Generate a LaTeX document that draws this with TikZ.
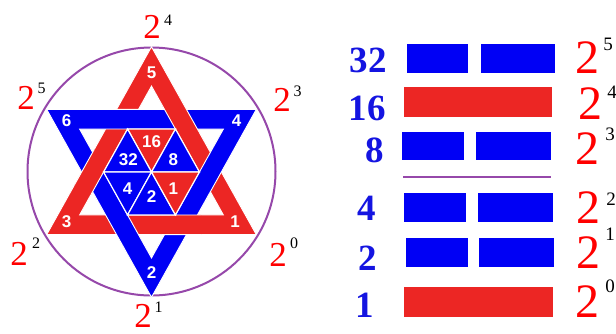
\documentclass[tikz,border=0pt]{standalone}
\usepackage{fontspec}
\setmainfont{Liberation Serif}
\newfontfamily\labfont{Liberation Sans}
\definecolor{sred}{RGB}{236,38,36}
\definecolor{sblue}{RGB}{0,0,245}
\definecolor{circ}{RGB}{150,72,170}
\definecolor{numblue}{RGB}{20,20,225}
\begin{document}
\begin{tikzpicture}[x=1pt,y=-1pt,
  wlab/.style={font=\labfont\bfseries\fontsize{17}{17}\selectfont, text=white, inner sep=0pt},
  big2/.style={font=\fontsize{35}{35}\selectfont, text=red, anchor=base, inner sep=0pt},
  sup/.style={font=\fontsize{16}{16}\selectfont, text=black, anchor=base, inner sep=0pt},
  rbig/.style={font=\fontsize{48}{48}\selectfont, text=red, anchor=base, inner sep=0pt},
  rsup/.style={font=\fontsize{19}{19}\selectfont, text=black, anchor=base, inner sep=0pt},
  num/.style={font=\bfseries\fontsize{37}{37}\selectfont, text=numblue, anchor=base, inner sep=0pt},
  bandred/.style={fill=sred, draw=white, line width=0.9pt, even odd rule, line join=miter},
  bandblue/.style={fill=sblue, draw=white, line width=0.9pt, even odd rule, line join=miter},
  tri/.style={draw=white, line width=1.2pt, line join=miter},
  barb/.style={fill=sblue},
  barr/.style={fill=sred}]
\useasboundingbox (0,0) rectangle (616,333);
\fill[white] (0,0) rectangle (616,333);

% circle
\draw[circ, line width=2pt] (151.5,171.5) circle [radius=124];

% star
\begin{scope}[shift={(151.5,172)}, yscale=-1.035]
  \coordinate (RO1) at (0,121);
  \coordinate (RO2) at (-104.79,-60.5);
  \coordinate (RO3) at (104.79,-60.5);
  \coordinate (RI1) at (0,83);
  \coordinate (RI2) at (-71.88,-41.5);
  \coordinate (RI3) at (71.88,-41.5);
  \coordinate (BO1) at (0,-121);
  \coordinate (BO2) at (-104.79,60.5);
  \coordinate (BO3) at (104.79,60.5);
  \coordinate (BI1) at (0,-83);
  \coordinate (BI2) at (-71.88,41.5);
  \coordinate (BI3) at (71.88,41.5);
  \coordinate (O) at (0,0);
  \coordinate (H0) at (47.92,0);
  \coordinate (H1) at (23.96,41.5);
  \coordinate (H2) at (-23.96,41.5);
  \coordinate (H3) at (-47.92,0);
  \coordinate (H4) at (-23.96,-41.5);
  \coordinate (H5) at (23.96,-41.5);

  \path[bandred] (RO1)--(RO2)--(RO3)--cycle (RI1)--(RI2)--(RI3)--cycle;
  \path[bandblue] (BO1)--(BO2)--(BO3)--cycle (BI1)--(BI2)--(BI3)--cycle;
  \foreach \a in {60,180,300}{
    \begin{scope}
      \clip (\a:59) circle [radius=22];
      \path[bandred] (RO1)--(RO2)--(RO3)--cycle (RI1)--(RI2)--(RI3)--cycle;
    \end{scope}
  }
  \path[tri, fill=sred]  (O)--(H1)--(H2)--cycle;
  \path[tri, fill=sblue] (O)--(H2)--(H3)--cycle;
  \path[tri, fill=sblue] (O)--(H0)--(H1)--cycle;
  \path[tri, fill=sblue] (O)--(H3)--(H4)--cycle;
  \path[tri, fill=sblue] (O)--(H4)--(H5)--cycle;
  \path[tri, fill=sred]  (O)--(H5)--(H0)--cycle;
\end{scope}

% star labels
\node[wlab] (s5) at (151.7,73) {5};
\node[wlab] (s6) at (66.7,120.5) {6};
\node[wlab] (s4) at (236.7,120.5) {4};
\node[wlab] (s3) at (66.7,221.5) {3};
\node[wlab] (s1) at (235,221.5) {1};
\node[wlab] (s2) at (151.7,273) {2};
\node[wlab] (t16) at (151.7,141.7) {16};
\node[wlab] (t32) at (128.3,160) {32};
\node[wlab] (t8) at (173.3,160) {8};
\node[wlab] (t4) at (127.7,188.3) {4};
\node[wlab] (t2) at (151.7,196.7) {2};
\node[wlab] (t1) at (173.3,188.3) {1};

% powers round the circle
\node[big2] (p4) at (152,38) {2};   \node[sup] (p4s) at (168,25) {4};
\node[big2] (p5) at (26,109) {2};   \node[sup] (p5s) at (41.5,93) {5};
\node[big2] (p3) at (282,111) {2};  \node[sup] (p3s) at (297.5,96) {3};
\node[big2] (p2) at (19,265) {2};   \node[sup] (p2s) at (36,248) {2};
\node[big2] (p0) at (278,266) {2};  \node[sup] (p0s) at (294,248) {0};
\node[big2] (p1) at (143,327.5) {2};  \node[sup] (p1s) at (158.5,312.5) {1};

% right: bars
\fill[barb] (407,44) rectangle (468,73);
\fill[barb] (481,44) rectangle (555,73);
\fill[barr] (404,87) rectangle (552,117);
\fill[barb] (402,132) rectangle (464,160);
\fill[barb] (476,132) rectangle (551,160);
\draw[circ, line width=1.8pt] (403,177) -- (551,177);
\fill[barb] (404,193) rectangle (466,222);
\fill[barb] (478,193) rectangle (553,222);
\fill[barb] (406,238) rectangle (468,267);
\fill[barb] (479,238) rectangle (554,267);
\fill[barr] (404,287) rectangle (553,317);

% right: numbers
\node[num] (n32) at (368,72) {32};
\node[num] (n16) at (367,120) {16};
\node[num] (n8) at (375,162) {8};
\node[num] (n4) at (367,220) {4};
\node[num] (n2) at (368,270) {2};
\node[num] (n1) at (365,317) {1};

% right: powers
\node[rbig] (q5) at (587,73) {2};  \node[rsup] (q5s) at (608,50) {5};
\node[rbig] (q4) at (590,119) {2}; \node[rsup] (q4s) at (612,98) {4};
\node[rbig] (q3) at (587,164) {2}; \node[rsup] (q3s) at (610,140) {3};
\node[rbig] (q2) at (588,223) {2}; \node[rsup] (q2s) at (611,205) {2};
\node[rbig] (q1) at (588,268) {2}; \node[rsup] (q1s) at (610,240) {1};
\node[rbig] (q0) at (587,317) {2}; \node[rsup] (q0s) at (610,292) {0};
\end{tikzpicture}
\end{document}
